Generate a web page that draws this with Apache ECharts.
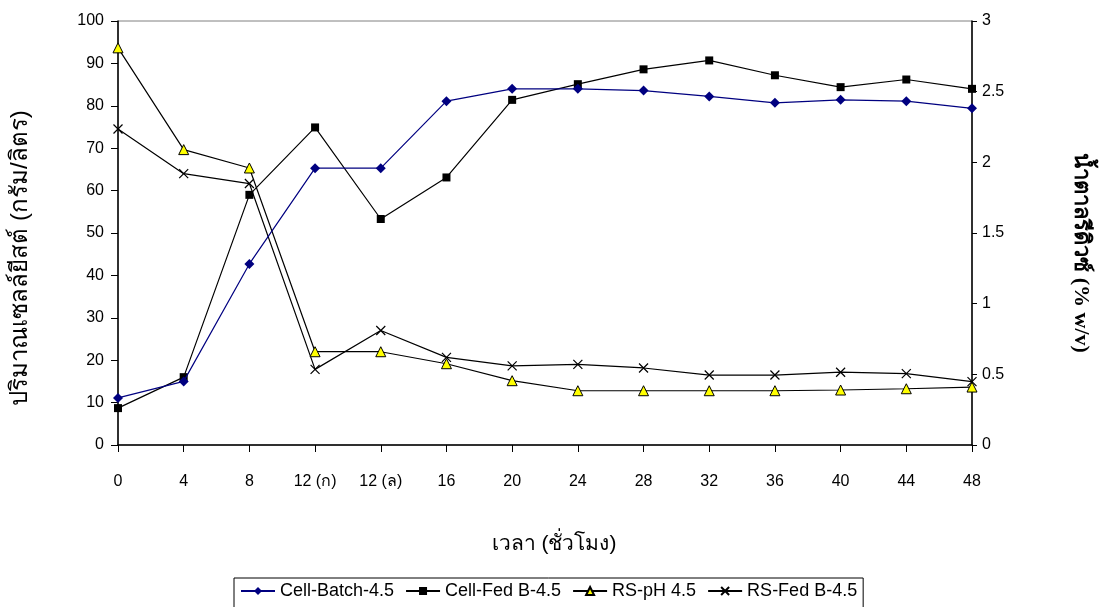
<!DOCTYPE html>
<html>
<head>
<meta charset="utf-8">
<script src="https://cdn.jsdelivr.net/npm/echarts@6/dist/echarts.min.js"></script>
<style>
  html, body { margin: 0; padding: 0; background: #fff; }
  #chart-container { width: 1117px; height: 607px; }
</style>
</head>
<body>
<div id="chart-container"></div>
<script>
var dom = document.getElementById("chart-container");
var myChart = echarts.init(dom, null, { renderer: "canvas" });

// time points (hours)
const hours = ["0", "4", "8", "12 (ก)", "12 (ล)", "16", "20", "24", "28", "32", "36", "40", "44", "48"];

// yeast cell (g/L) - left axis
const cellBatch = [11.1, 15.0, 42.7, 65.3, 65.3, 81.1, 84.0, 84.0, 83.6, 82.2, 80.7, 81.4, 81.1, 79.4];
const cellFedB = [8.7, 16.0, 59.0, 74.9, 53.3, 63.1, 81.4, 85.1, 88.6, 90.7, 87.2, 84.4, 86.2, 84.0];

// reducing sugar (% w/v) - right axis
const rsPH = [2.81, 2.09, 1.96, 0.66, 0.66, 0.575, 0.455, 0.384, 0.384, 0.384, 0.384, 0.389, 0.398, 0.41];
const rsFedB = [2.236, 1.92, 1.85, 0.535, 0.81, 0.62, 0.56, 0.57, 0.545, 0.495, 0.495, 0.515, 0.505, 0.448];

const leftTicks = { min: 0, max: 100, interval: 10 };
const rightTicks = { min: 0, max: 3, interval: 0.5 };

const baseFont = "'Liberation Sans', Arial, sans-serif";
const crossPath = "path://M0,0L10,10M10,0L0,10";

var option = {
  animation: false,
  backgroundColor: "#fff",
  textStyle: { fontFamily: baseFont, color: "#000" },
  grid: {
    left: 118,
    right: 145,
    top: 21,
    bottom: 162,
    show: true,
    borderColor: "#808080",
    borderWidth: 1,
    containLabel: false,
    outerBoundsMode: "none",
  },
  legend: {
    top: 578,
    left: 234,
    borderColor: "#000",
    borderWidth: 1,
    padding: [4, 6, 12, 6],
    itemWidth: 34,
    itemHeight: 10,
    itemGap: 11,
    textStyle: { fontSize: 18, color: "#000", fontFamily: baseFont },
    data: ["Cell-Batch-4.5", "Cell-Fed B-4.5", "RS-pH 4.5", "RS-Fed B-4.5"],
  },
  xAxis: {
    type: "category",
    data: hours,
    boundaryGap: false,
    name: "เวลา (ชั่วโมง)",
    nameLocation: "middle",
    nameGap: 89,
    nameTextStyle: { fontSize: 21, color: "#000", padding: [0, 0, 0, 18] },
    axisLine: { lineStyle: { color: "#000", width: 1.5 } },
    axisTick: { length: 7, lineStyle: { color: "#000" } },
    axisLabel: { fontSize: 16, color: "#000", margin: 29, interval: 0 },
    splitLine: { show: false },
  },
  yAxis: [
    {
      type: "value",
      position: "left",
      min: leftTicks.min,
      max: leftTicks.max,
      interval: leftTicks.interval,
      name: "ปริมาณเซลล์ยีสต์ (กรัม/ลิตร)",
      nameLocation: "middle",
      nameGap: 86,
      nameTextStyle: { fontSize: 24, color: "#000", padding: [0, 50, 0, 0] },
      axisLine: { show: true, lineStyle: { color: "#000", width: 1.5 } },
      axisTick: { show: true, length: 7, lineStyle: { color: "#000" } },
      axisLabel: { fontSize: 16, color: "#000", margin: 14 },
      splitLine: { show: false },
    },
    {
      type: "value",
      position: "right",
      min: rightTicks.min,
      max: rightTicks.max,
      interval: rightTicks.interval,
      name: "น้ำตาลรีดิวซ์ (% w/v)",
      nameLocation: "middle",
      nameRotate: -90,
      nameGap: 98,
      nameTextStyle: { fontSize: 22, fontWeight: "bold", color: "#000", fontFamily: "'Liberation Serif', serif", padding: [0, 0, 0, 40] },
      axisLine: { show: true, lineStyle: { color: "#000", width: 1.5 } },
      axisTick: { show: true, length: 5, lineStyle: { color: "#000" } },
      axisLabel: { fontSize: 16, color: "#000", margin: 10 },
      splitLine: { show: false },
    },
  ],
  series: [
    {
      name: "Cell-Batch-4.5",
      type: "line",
      yAxisIndex: 0,
      data: cellBatch,
      symbol: "diamond",
      symbolSize: 10,
      color: "#000080",
      lineStyle: { color: "#000080", width: 1.2 },
      itemStyle: { color: "#000080" },
      z: 4,
    },
    {
      name: "Cell-Fed B-4.5",
      type: "line",
      yAxisIndex: 0,
      data: cellFedB,
      symbol: "rect",
      symbolSize: 8,
      color: "#000",
      lineStyle: { color: "#000", width: 1.2 },
      itemStyle: { color: "#000" },
      z: 3,
    },
    {
      name: "RS-pH 4.5",
      type: "line",
      yAxisIndex: 1,
      data: rsPH,
      symbol: "triangle",
      symbolSize: 10,
      color: "#ffff00",
      lineStyle: { color: "#000", width: 1.2 },
      itemStyle: { color: "#ffff00", borderColor: "#000", borderWidth: 1 },
      z: 2,
    },
    {
      name: "RS-Fed B-4.5",
      type: "line",
      yAxisIndex: 1,
      data: rsFedB,
      symbol: crossPath,
      symbolSize: 9,
      color: "#000",
      lineStyle: { color: "#000", width: 1.2 },
      itemStyle: { color: "#000", borderColor: "#000", borderWidth: 1.2 },
      z: 2,
    },
  ],
};

myChart.setOption(option);
window.addEventListener("resize", myChart.resize);
</script>
</body>
</html>
